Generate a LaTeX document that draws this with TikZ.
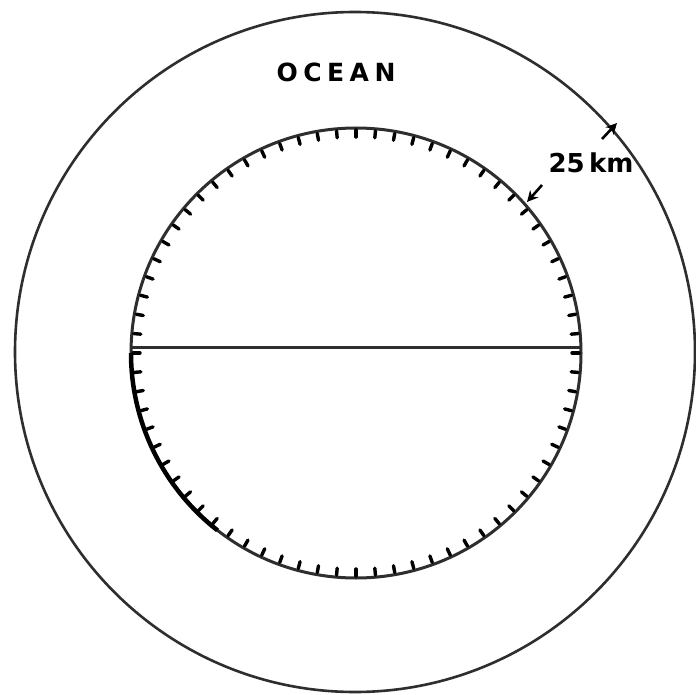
\documentclass[tikz,border=0pt]{standalone}
\usepackage{fontspec}
\newfontfamily\handfont[LetterSpace=22]{DejaVu Sans}
\newfontfamily\labelfont{DejaVu Sans}
\usetikzlibrary{arrows.meta}
\definecolor{ink}{HTML}{2E2E2E}
\tikzset{
  rim/.style={draw=ink, line width=2.6pt},
  coast/.style={draw=ink, line width=3pt},
  hachure/.style={draw=black, line width=3.4pt, line cap=round},
  dimarrow/.style={draw=black, line width=2.6pt, -{Stealth[length=11pt,width=11pt]}},
  lbl/.style={inner sep=0pt, text=black}
}
\begin{document}
\begin{tikzpicture}[x=1pt,y=-1pt]
\useasboundingbox (0,0) rectangle (696,695);
\fill[white] (0,0) rectangle (696,695);
% outer circle (ocean boundary)
\node[rim, circle, minimum size=680pt, inner sep=0pt] (outer) at (355,352) {};
% inner circle (island)
\node[coast, circle, minimum size=450pt, inner sep=0pt] (inner) at (356,353) {};
% thicker lower-left coast
\draw[draw=black, line width=4.5pt] (inner.center) ++(180:225) arc[start angle=180, end angle=128, radius=225];
% hachures pointing inward
\foreach \a in {0,5,...,355} {
  \draw[hachure] (inner.center) ++(\a:223) -- ++(\a:-7);
}
% diameter line
\coordinate (wl) at (131,347);
\coordinate (wr) at (582,347);
\draw[ink, line width=3pt] (wl) -- (wr);
% labels
\node[lbl, font=\handfont\bfseries\fontsize{25}{25}\selectfont] (ocean) at (336,72) {OCEAN};
\node[lbl, font=\labelfont\bfseries\fontsize{26}{26}\selectfont] (dist) at (591,163) {25\,km};
% dimension arrows
\coordinate (a1s) at (602,139);
\coordinate (a1e) at (617,123);
\coordinate (a2s) at (542,185);
\coordinate (a2e) at (527,202);
\draw[dimarrow] (a1s) -- (a1e);
\draw[dimarrow] (a2s) -- (a2e);
\end{tikzpicture}
\end{document}
